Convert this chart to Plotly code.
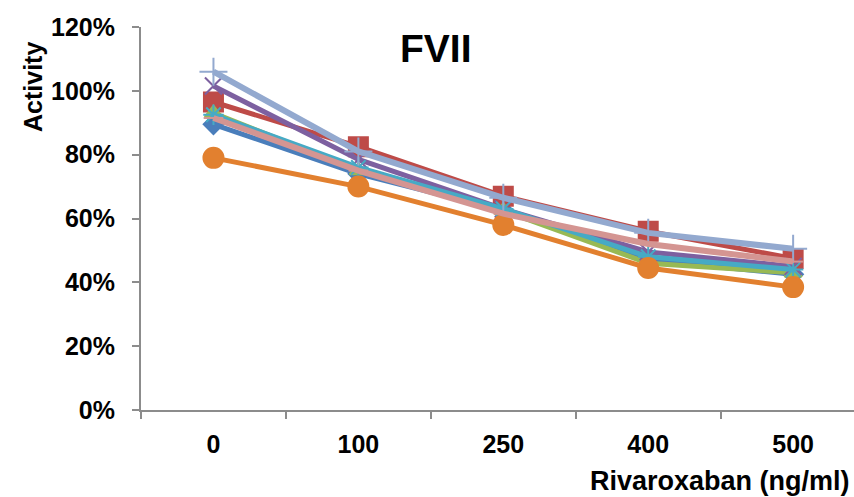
import plotly.graph_objects as go

categories = ["0", "100", "250", "400", "500"]
blue = [89.5, 74, 62.5, 47, 42.5]
red = [96.5, 82.5, 67, 56, 47.5]
green = [93, 75, 62.5, 46, 43]
purple = [101.5, 78.5, 63, 49.5, 45]
teal = [92.5, 76, 63, 48, 44]
orange = [79, 70, 58, 44.5, 38.5]
lightblue = [106, 81, 66.5, 55.5, 50.5]
pink = [91.5, 75, 61.5, 52, 46.5]
y_ticks = [0, 20, 40, 60, 80, 100, 120]
y_tick_text = ["0%", "20%", "40%", "60%", "80%", "100%", "120%"]

series = [
    (blue, "#4A7EBB", "diamond", 15, 5),
    (red, "#BE4B48", "square", 19, 5),
    (green, "#98B954", "triangle-up", 15, 5),
    (purple, "#7D60A0", "x-thin-open", 17, 5),
    (teal, "#46AAC5", "asterisk-open", 17, 5),
    (orange, "#E2802F", "circle", 20, 5),
    (lightblue, "#93A9CF", "cross-thin-open", 20, 6),
    (pink, "#D49592", "line-ew-open", 14, 6),
]

fig = go.Figure()
for vals, col, sym, size, lw in series:
    fig.add_trace(go.Scatter(
        x=categories, y=vals, mode="lines+markers",
        line=dict(color=col, width=lw),
        marker=dict(symbol=sym, size=size, color=col,
                    line=dict(color=col, width=2)),
        showlegend=False,
    ))

font = "Liberation Sans, Arial, sans-serif"
L, R, T, B = 141, 0, 27, 87
W, H = 854, 497
plot_w = W - L - R
plot_h = H - T - B


def px_x(x):
    return (x - L) / plot_w


def px_y(y):
    return (H - B - y) / plot_h


tickfont = dict(family=font, size=25, color="black", weight="bold")
fig.update_layout(
    width=W, height=H,
    margin=dict(l=L, r=R, t=T, b=B),
    plot_bgcolor="white", paper_bgcolor="white",
    font=dict(family=font, size=25, color="black"),
    xaxis=dict(type="category", range=[-0.5, 4.42],
               showline=True, linecolor="#8C8C8C", linewidth=2,
               ticks="outside", tickson="boundaries", ticklen=7,
               tickcolor="#8C8C8C", tickwidth=2, showgrid=False,
               tickfont=tickfont, ticklabelstandoff=11),
    yaxis=dict(range=[0, 120], tickvals=y_ticks, ticktext=y_tick_text,
               showline=True, linecolor="#8C8C8C", linewidth=2,
               ticks="outside", ticklen=7, tickcolor="#8C8C8C", tickwidth=2,
               showgrid=False, zeroline=False,
               tickfont=tickfont, ticklabelstandoff=12),
    annotations=[
        dict(text="<b>FVII</b>", x=px_x(436), y=px_y(48),
             xref="paper", yref="paper", showarrow=False,
             xanchor="center", yanchor="middle",
             font=dict(family=font, size=39, color="black")),
        dict(text="<b>Rivaroxaban (ng/ml)</b>", x=px_x(720), y=px_y(481),
             xref="paper", yref="paper", showarrow=False,
             xanchor="center", yanchor="middle",
             font=dict(family=font, size=27, color="black")),
        dict(text="<b>Activity</b>", x=px_x(33), y=px_y(87), textangle=-90,
             xref="paper", yref="paper", showarrow=False,
             xanchor="center", yanchor="middle",
             font=dict(family=font, size=25, color="black")),
    ],
)
fig.write_html("out.html")
